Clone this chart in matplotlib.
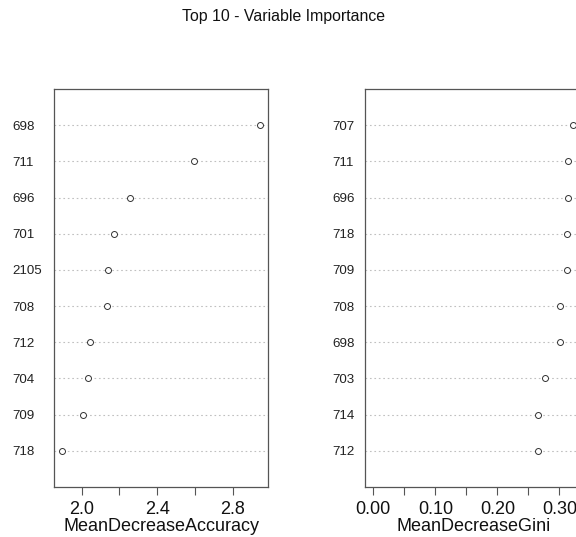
import numpy as np
import matplotlib.pyplot as plt

plt.rcParams['font.family'] = ['Liberation Sans', 'DejaVu Sans']

# top to bottom as printed
acc_vars = ['698', '711', '696', '701', '2105', '708', '712', '704', '709', '718']
acc_vals = [2.946, 2.592, 2.256, 2.170, 2.139, 2.134, 2.046, 2.034, 2.007, 1.897]

gini_vars = ['707', '711', '696', '718', '709', '708', '698', '703', '714', '712']
gini_vals = [0.3216, 0.3135, 0.3132, 0.3120, 0.3118, 0.3016, 0.3005, 0.2770, 0.2660, 0.2650]

W, H = 576, 537
fig = plt.figure(figsize=(W / 100, H / 100), dpi=100)

def dotpanel(rect, names, vals, xlim, ticks, ticklabels, xlabel, pad):
    ax = fig.add_axes(rect)
    n = len(vals)
    y = np.arange(n, 0, -1)
    for yy in y:
        ax.axhline(yy, color='#c0c0c0', lw=0.8, ls=(0, (1.5, 2.5)), zorder=1)
    ax.plot(vals, y, 'o', ms=4.3, mfc='white', mec='#333333', mew=0.7, zorder=3)
    ax.set_ylim(0, n + 1)
    ax.set_xlim(*xlim)
    ax.set_yticks(y)
    ax.set_yticklabels(names, fontsize=9.6, color='#222222')
    for t in ax.get_yticklabels():
        t.set_ha('left')
    ax.tick_params(axis='y', length=0, pad=pad)
    ax.set_xticks(ticks)
    ax.set_xticklabels(ticklabels, fontsize=13)
    ax.tick_params(axis='x', length=6, width=0.8, color='#555555', pad=4, labelcolor='#111111')
    for s in ax.spines.values():
        s.set_color('#555555')
        s.set_linewidth(0.9)
    ax.set_xlabel(xlabel, fontsize=13, labelpad=0, color='#111111')
    return ax

dotpanel([54.3 / W, 50 / H, 214 / W, 398 / H], acc_vars, acc_vals, (1.855, 2.988),
         [2.0, 2.2, 2.4, 2.6, 2.8], ['2.0', '', '2.4', '', '2.8'], 'MeanDecreaseAccuracy', 30)

dotpanel([365.3 / W, 50 / H, 216 / W, 398 / H], gini_vars, gini_vals, (-0.0129, 0.3354),
         [0.0, 0.05, 0.10, 0.15, 0.20, 0.25, 0.30], ['0.00', '', '0.10', '', '0.20', '', '0.30'],
         'MeanDecreaseGini', 23.5)

fig.text(283 / W, 1 - 16 / H, 'Top 10 - Variable Importance', ha='center', va='center',
         fontsize=11.4, color='#111111')

fig.savefig('out.png', dpi=100)
